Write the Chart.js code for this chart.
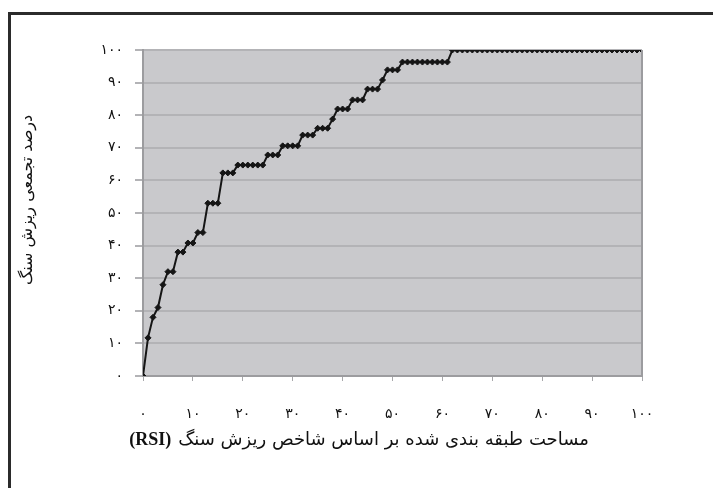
<!DOCTYPE html>
<html>
<head>
<meta charset="utf-8">
<script src="https://cdn.jsdelivr.net/npm/chart.js@4"></script>
<style>
  body { margin: 0; background: #fff; }
  #wrap { position: relative; width: 713px; height: 488px; overflow: hidden; }
  #frame {
    position: absolute; left: 8px; top: 12px; width: 720px; height: 500px;
    border-left: 3px solid #2b2b2b; border-top: 3px solid #2b2b2b;
    box-sizing: border-box;
  }
  canvas { position: absolute; left: 0; top: 0; }
</style>
</head>
<body>
<div id="wrap">
  <div id="frame"></div>
  <canvas id="rsi-chart" width="713" height="488"></canvas>
</div>
<script>
// area classified by RSI (%) and cumulative rockfall (%)
const areaValues = [
  0, 1, 2, 3, 4, 5, 6, 7, 8, 9,
  10, 11, 12, 13, 14, 15, 16, 17, 18, 19,
  20, 21, 22, 23, 24, 25, 26, 27, 28, 29,
  30, 31, 32, 33, 34, 35, 36, 37, 38, 39,
  40, 41, 42, 43, 44, 45, 46, 47, 48, 49,
  50, 51, 52, 53, 54, 55, 56, 57, 58, 59,
  60, 61, 62, 63, 64, 65, 66, 67, 68, 69,
  70, 71, 72, 73, 74, 75, 76, 77, 78, 79,
  80, 81, 82, 83, 84, 85, 86, 87, 88, 89,
  90, 91, 92, 93, 94, 95, 96, 97, 98, 99,
  100
];
const rockfallValues = [
  0, 11.7, 18, 21, 28, 32, 32, 38, 38, 40.8,
  40.8, 44, 44, 53, 53, 53, 62.3, 62.3, 62.3, 64.7,
  64.7, 64.7, 64.7, 64.7, 64.7, 67.8, 67.8, 67.8, 70.6, 70.6,
  70.6, 70.6, 73.9, 73.9, 73.9, 76, 76, 76, 78.8, 81.9,
  81.9, 81.9, 84.7, 84.7, 84.7, 88, 88, 88, 90.8, 93.9,
  93.9, 93.9, 96.3, 96.3, 96.3, 96.3, 96.3, 96.3, 96.3, 96.3,
  96.3, 96.3, 100, 100, 100, 100, 100, 100, 100, 100,
  100, 100, 100, 100, 100, 100, 100, 100, 100, 100,
  100, 100, 100, 100, 100, 100, 100, 100, 100, 100,
  100, 100, 100, 100, 100, 100, 100, 100, 100, 100,
  100
];
const tickValues = [0, 10, 20, 30, 40, 50, 60, 70, 80, 90, 100];

const yTitle = 'درصد تجمعی ریزش سنگ';
const xTitle = 'مساحت طبقه بندی شده بر اساس شاخص ریزش سنگ';
const xTitleTag = '(RSI)';

const faDigits = '۰۱۲۳۴۵۶۷۸۹';
function toFa(n) {
  return String(n).replace(/\d/g, d => faDigits[d]);
}

const points = areaValues.map((x, i) => ({ x: x, y: rockfallValues[i] }));

// gray plot background, right border, and the two titles
const plotDecor = {
  id: 'plotDecor',
  beforeDraw(chart) {
    const a = chart.chartArea;
    const ctx = chart.ctx;
    ctx.save();
    ctx.fillStyle = '#c9c9cc';
    ctx.fillRect(a.left, a.top, a.right - a.left, a.bottom - a.top);
    ctx.restore();
  },
  afterDatasetsDraw(chart) {
    const a = chart.chartArea;
    const ctx = chart.ctx;
    ctx.save();
    ctx.strokeStyle = '#9c9c9f';
    ctx.lineWidth = 2;
    ctx.beginPath();
    ctx.moveTo(a.right, a.top);
    ctx.lineTo(a.right, a.bottom);
    ctx.stroke();
    ctx.restore();
  },
  afterDraw(chart) {
    const a = chart.chartArea;
    const ctx = chart.ctx;
    ctx.save();
    ctx.fillStyle = '#111';
    ctx.textBaseline = 'middle';

    // x title: bold (RSI) on the left, persian text after it
    ctx.font = 'bold 18px "Liberation Serif"';
    const tagW = ctx.measureText(xTitleTag).width;
    ctx.font = '18px "DejaVu Sans"';
    const txtW = ctx.measureText(xTitle).width;
    const total = tagW + 7 + txtW;
    const cx = a.left + (a.right - a.left) * 0.433;
    const x0 = cx - total / 2;
    const y = a.bottom + 64;
    ctx.font = 'bold 18px "Liberation Serif"';
    ctx.textAlign = 'left';
    ctx.fillText(xTitleTag, x0, y);
    ctx.font = '18px "DejaVu Sans"';
    ctx.fillText(xTitle, x0 + tagW + 7, y);

    // y title, rotated
    ctx.translate(28, a.top + (a.bottom - a.top) * 0.46);
    ctx.rotate(-Math.PI / 2);
    ctx.textAlign = 'center';
    ctx.font = '16px "DejaVu Sans"';
    ctx.fillText(yTitle, 0, 0);
    ctx.restore();
  }
};

const ctx = document.getElementById('rsi-chart').getContext('2d');
const chart = new Chart(ctx, {
  type: 'line',
  data: {
    datasets: [{
      label: 'RSI',
      data: points,
      borderColor: '#151515',
      borderWidth: 2,
      backgroundColor: '#151515',
      pointStyle: 'rectRot',
      pointRadius: 3,
      pointBorderWidth: 1,
      pointBorderColor: '#151515',
      pointBackgroundColor: '#151515',
      tension: 0,
      fill: false
    }]
  },
  options: {
    responsive: false,
    animation: false,
    layout: { padding: { top: 50, right: 71, bottom: 0, left: 0 } },
    plugins: {
      legend: { display: false },
      tooltip: { enabled: false }
    },
    scales: {
      x: {
        type: 'linear',
        min: 0,
        max: 100,
        afterBuildTicks: scale => { scale.ticks = tickValues.map(v => ({ value: v })); },
        afterFit: scale => { scale.height = 112; },
        ticks: {
          callback: v => toFa(v),
          padding: 25,
          maxRotation: 0,
          color: '#111',
          font: { family: '"DejaVu Sans"', size: 14 }
        },
        grid: {
          drawOnChartArea: false,
          tickLength: 5,
          color: '#a8a8ab',
          lineWidth: 1
        },
        border: { display: true, color: '#9c9c9f', width: 2 }
      },
      y: {
        min: 0,
        max: 100,
        afterBuildTicks: scale => { scale.ticks = tickValues.map(v => ({ value: v })); },
        afterFit: scale => { scale.width = 143; },
        ticks: {
          callback: v => toFa(v),
          padding: 12,
          color: '#111',
          font: { family: '"DejaVu Sans"', size: 14 }
        },
        grid: {
          color: '#b3b3b6',
          lineWidth: 2,
          tickLength: 8
        },
        border: { display: true, color: '#9c9c9f', width: 2 }
      }
    }
  },
  plugins: [plotDecor]
});
</script>
</body>
</html>
